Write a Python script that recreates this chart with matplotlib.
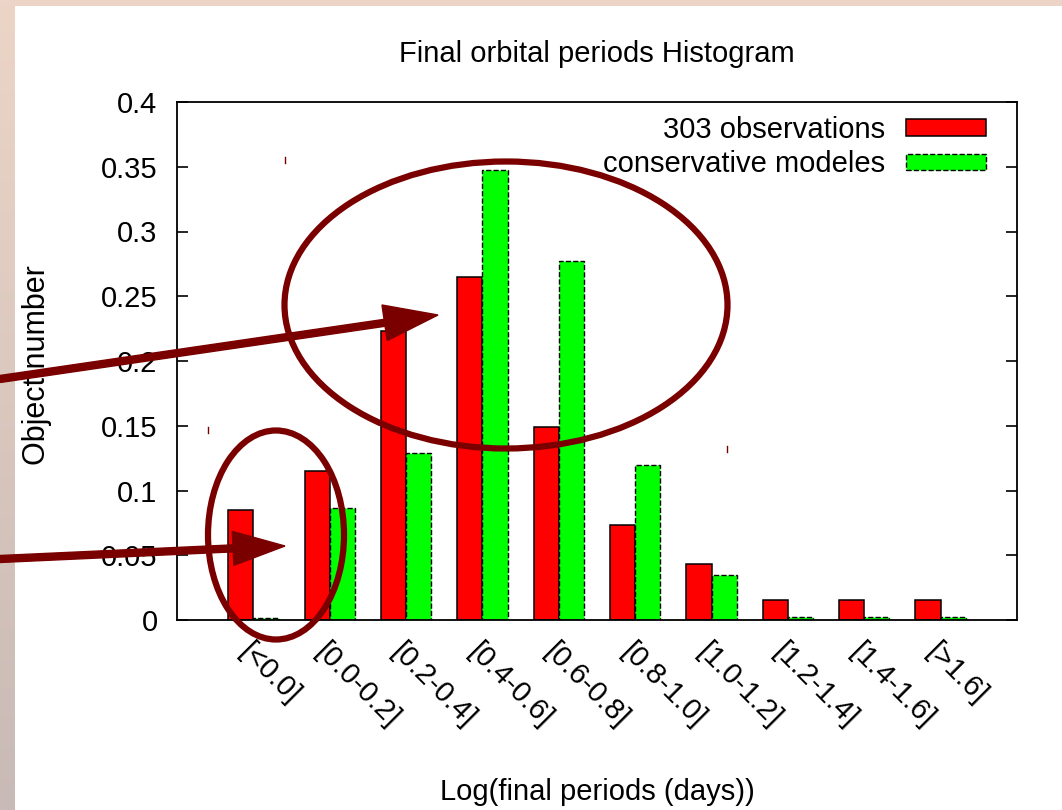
import matplotlib.pyplot as plt
import numpy as np
from matplotlib.patches import Ellipse, FancyArrow

plt.rcParams['font.family'] = ['Liberation Sans', 'DejaVu Sans']

categories = ['[<0.0]', '[0.0-0.2]', '[0.2-0.4]', '[0.4-0.6]', '[0.6-0.8]',
              '[0.8-1.0]', '[1.0-1.2]', '[1.2-1.4]', '[1.4-1.6]', '[>1.6]']
observations = [0.085, 0.115, 0.223, 0.265, 0.149, 0.073, 0.043, 0.0155, 0.0155, 0.0155]
models = [0.0015, 0.0867, 0.129, 0.3475, 0.277, 0.1195, 0.0347, 0.002, 0.002, 0.002]
yticks = [0, 0.05, 0.1, 0.15, 0.2, 0.25, 0.3, 0.35, 0.4]
ytick_labels = ['0', '0.05', '0.1', '0.15', '0.2', '0.25', '0.3', '0.35', '0.4']

W, H = 1062, 810
fs = 21
fig = plt.figure(figsize=(W / 100, H / 100), dpi=100, facecolor='white')

# pinkish frame strips (top and left)
bg = fig.add_axes([0, 0, 1, 1], zorder=-5)
top_col = np.array([236, 213, 199]) / 255
bot_col = np.array([200, 186, 182]) / 255
t = np.linspace(0, 1, 200)[:, None, None]
grad = top_col * (1 - t) + bot_col * t
bg.imshow(grad, extent=(0, 15, H, 0), aspect='auto')
bg.imshow(np.tile(top_col, (1, 2, 1)), extent=(0, W, 6, 0), aspect='auto')
bg.set_xlim(0, W)
bg.set_ylim(H, 0)
bg.axis('off')

ax = fig.add_axes([177 / W, (H - 620) / H, (1017 - 177) / W, (620 - 102) / H])
x = np.arange(len(categories))
w = 0.33
ax.bar(x - w / 2, observations, w, color='#ff0000', edgecolor='black', linewidth=1.1,
       label='303 observations')
ax.bar(x + w / 2, models, w, color='#00ff00', edgecolor='black', linewidth=1.0,
       linestyle='--', label='conservative modeles')

ax.set_xlim(-1, 10)
ax.set_ylim(0, 0.4)
ax.set_yticks(yticks)
ax.set_yticklabels(ytick_labels)
ax.set_xticks(x)
ax.set_xticklabels(categories, rotation=-45, ha='left', va='top', rotation_mode='anchor')
ax.tick_params(axis='y', direction='in', length=8, width=1.2, right=True, labelsize=fs, pad=14)
ax.tick_params(axis='x', length=0, labelsize=fs, pad=13)
for s in ax.spines.values():
    s.set_linewidth(1.3)

ax.legend(loc='upper right', bbox_to_anchor=(986 / W, (H - 116) / H),
          bbox_transform=fig.transFigure, frameon=False, markerfirst=False,
          fontsize=fs, borderaxespad=0, borderpad=0, handlelength=2.75,
          handleheight=0.5, handletextpad=0.7, labelspacing=0.22)

fig.text(597 / W, (H - 62) / H, 'Final orbital periods Histogram', ha='center',
         va='baseline', fontsize=fs)
fig.text(597 / W, (H - 800) / H, 'Log(final periods (days))', ha='center',
         va='baseline', fontsize=fs)
fig.text(37 / W, (H - 365) / H, 'Object number', ha='center', va='center',
         rotation=90, fontsize=22)

# highlight ellipses and arrows
ov = fig.add_axes([0, 0, 1, 1], zorder=10)
ov.set_xlim(0, W)
ov.set_ylim(H, 0)
ov.axis('off')
ov.patch.set_alpha(0)
mark = '#7a0000'
ov.add_patch(Ellipse((506, 305), 443, 287, fill=False, edgecolor=mark, linewidth=4.5))
ov.add_patch(Ellipse((276, 535), 136, 209, fill=False, edgecolor=mark, linewidth=4.5))
ov.add_patch(FancyArrow(0, 379, 438, 315 - 379, width=7, head_width=36, head_length=54,
                        length_includes_head=True, color=mark))
ov.add_patch(FancyArrow(0, 559, 285, 546 - 559, width=7, head_width=34, head_length=52,
                        length_includes_head=True, color=mark))
for px, py in [(285, 160), (208, 430), (727, 449)]:
    ov.plot([px, px], [py - 3, py + 3], color=mark, linewidth=1)

fig.savefig('out.png', dpi=100)
